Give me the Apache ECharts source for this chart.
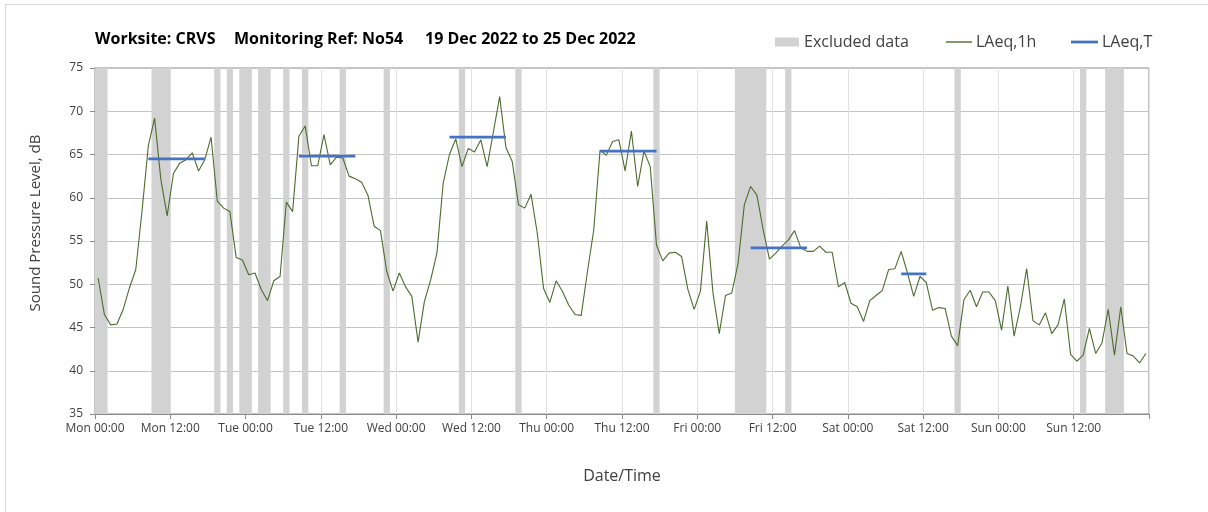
<!DOCTYPE html>
<html><head><meta charset="utf-8">
<script src="https://cdn.jsdelivr.net/npm/echarts@6/dist/echarts.min.js"></script>
<style>html,body{margin:0;padding:0;background:#fff}#c{width:1208px;height:512px}</style>
</head><body><div id="c"></div>
<script>
// ---- data ----
const titleParts = ['Worksite: CRVS', 'Monitoring Ref: No54', '19 Dec 2022 to 25 Dec 2022'];
const xTickLabels = ['Mon 00:00','Mon 12:00','Tue 00:00','Tue 12:00','Wed 00:00','Wed 12:00','Thu 00:00','Thu 12:00','Fri 00:00','Fri 12:00','Sat 00:00','Sat 12:00','Sun 00:00','Sun 12:00'];
// hourly LAeq,1h (hour index 0 = Mon 00:00-01:00)
const laeq1h = [
 50.7,46.5,45.3,45.4,47.1,49.6,51.7,58.5,66.0,69.2,62.1,57.9,62.8,64.0,64.4,65.2,63.1,64.4,67.0,59.6,58.8,58.4,53.1,52.8,
 51.1,51.3,49.4,48.1,50.4,50.9,59.5,58.4,67.1,68.3,63.7,63.7,67.3,63.8,64.7,64.6,62.5,62.2,61.8,60.3,56.7,56.2,51.5,49.2,
 51.3,49.7,48.6,43.3,48.0,50.5,53.6,61.7,65.0,66.8,63.6,65.7,65.3,66.7,63.6,67.6,71.7,65.8,64.2,59.2,58.8,60.4,55.9,49.5,
 47.9,50.4,49.2,47.6,46.5,46.4,51.5,56.3,65.5,64.9,66.5,66.7,63.1,67.7,61.3,65.4,63.6,54.5,52.7,53.6,53.7,53.2,49.4,47.1,
 49.2,57.3,49.0,44.3,48.7,49.0,52.4,59.2,61.3,60.3,56.3,52.9,53.6,54.4,55.1,56.2,54.2,53.8,53.8,54.4,53.7,53.7,49.7,50.2,
 47.8,47.4,45.7,48.1,48.7,49.3,51.7,51.8,53.8,51.3,48.6,50.9,50.2,47.0,47.3,47.2,44.0,42.9,48.2,49.3,47.4,49.1,49.1,48.1,
 44.7,49.8,44.0,47.4,51.8,45.8,45.3,46.7,44.3,45.3,48.3,41.9,41.1,41.8,44.9,42.0,43.2,47.1,41.8,47.4,42.0,41.7,40.9,42.0
];
// excluded data periods (hours from Mon 00:00)
const excludedStart = [0, 9,19,21,23,26,30,33,39,46,58,67,89,102,110,137,157,161];
const excludedEnd   = [2,12,20,22,25,28,31,34,40,47,59,68,90,107,111,138,158,164];
// LAeq,T assessment periods (first and last hour index) and levels
const periodStart = [8, 32, 56, 80, 104, 128];
const periodEnd   = [17, 41, 65, 89, 113, 132];
const periodLevel = [64.5, 64.8, 67.0, 65.4, 54.2, 51.2];

// ---- build series data ----
const hourlyData = laeq1h.map((v, i) => [i + 0.5, v]);
const tLevels = laeq1h.map(() => '-');
periodStart.forEach((s, k) => { for (let i = s; i <= periodEnd[k]; i++) tLevels[i] = periodLevel[k]; });
const periodData = tLevels.map((v, i) => [i + 0.5, v]);
const excludedData = excludedStart.map((s, k) => [s, excludedEnd[k]]);

const FONT = '"Open Sans", "Noto Sans", sans-serif';
const chart = echarts.init(document.getElementById('c'), null, {renderer: 'canvas'});
chart.setOption({
  animation: false,
  backgroundColor: '#ffffff',
  textStyle: {fontFamily: FONT},
  grid: {left: 95, right: 59, top: 68, bottom: 98, show: true, borderColor: '#8a8a8a', borderWidth: 1, containLabel: false, outerBoundsMode: 'none'},
  legend: [
    {data: [{name: 'Excluded data', icon: 'rect'}], left: 775, top: 34, itemWidth: 24, itemHeight: 9, itemGap: 0, padding: 0,
     textStyle: {fontSize: 16, color: '#404040', fontFamily: FONT}},
    {data: [{name: 'LAeq,1h', icon: 'rect'}], left: 946, top: 34, itemWidth: 26, itemHeight: 1.4, padding: 0,
     textStyle: {fontSize: 16, color: '#404040', fontFamily: FONT, padding: [0, 0, 0, -1]}},
    {data: [{name: 'LAeq,T', icon: 'rect'}], left: 1071, top: 34, itemWidth: 27, itemHeight: 2.75, padding: 0,
     textStyle: {fontSize: 16, color: '#404040', fontFamily: FONT, padding: [0, 0, 0, -1]}}
  ],
  xAxis: {
    type: 'value', min: 0, max: 168, interval: 12,
    axisLine: {show: true, lineStyle: {color: '#8a8a8a'}},
    axisTick: {show: true, length: 5, lineStyle: {color: '#8a8a8a'}},
    axisLabel: {formatter: v => xTickLabels[Math.round(v / 12)] || '', fontSize: 12, color: '#404040', margin: 9, fontFamily: FONT},
    splitLine: {show: true, lineStyle: {color: '#E2E2E2'}}
  },
  yAxis: {
    type: 'value', min: 35, max: 75, interval: 5,
    axisLine: {show: true, lineStyle: {color: '#8a8a8a'}},
    axisTick: {show: true, length: 5, lineStyle: {color: '#8a8a8a'}},
    axisLabel: {fontSize: 12, color: '#404040', margin: 12, fontFamily: FONT},
    splitLine: {show: true, lineStyle: {color: '#C4C4C4'}}
  },
  graphic: [
    {type: 'rect', shape: {x: 5.5, y: 4.5, width: 1300, height: 600}, style: {fill: 'none', stroke: '#D9D9D9', lineWidth: 1}, silent: true, z: -10},
    {type: 'text', x: 95, y: 39, style: {text: titleParts[0], font: 'bold 16px ' + FONT, fill: '#000', align: 'left', verticalAlign: 'middle'}},
    {type: 'text', x: 234, y: 39, style: {text: titleParts[1], font: 'bold 16px ' + FONT, fill: '#000', align: 'left', verticalAlign: 'middle'}},
    {type: 'text', x: 425, y: 39, style: {text: titleParts[2], font: 'bold 16px ' + FONT, fill: '#000', align: 'left', verticalAlign: 'middle'}},
    {type: 'text', x: 36, y: 223, rotation: Math.PI / 2, style: {text: 'Sound Pressure Level, dB', font: '15px ' + FONT, fill: '#404040', align: 'center', verticalAlign: 'middle'}},
    {type: 'text', x: 622, y: 476, style: {text: 'Date/Time', font: '16px ' + FONT, fill: '#404040', align: 'center', verticalAlign: 'middle'}}
  ],
  series: [
    {
      name: 'Excluded data', type: 'custom', z: 1,
      itemStyle: {color: '#D2D2D2'},
      encode: {x: [0, 1]},
      data: excludedData,
      renderItem: function (params, api) {
        const a = api.coord([api.value(0), 35]);
        const b = api.coord([api.value(1), 35]);
        const cs = params.coordSys;
        return {type: 'rect', shape: {x: a[0], y: cs.y, width: b[0] - a[0], height: cs.height}, style: {fill: '#D2D2D2'}};
      }
    },
    {name: 'LAeq,1h', type: 'line', z: 3, data: hourlyData, symbol: 'none', showSymbol: false,
     lineStyle: {color: '#4E6B2E', width: 1.1}, itemStyle: {color: '#4E6B2E'}},
    {name: 'LAeq,T', type: 'line', z: 4, data: periodData, symbol: 'none', showSymbol: false, connectNulls: false,
     lineStyle: {color: '#4472C4', width: 2.75}, itemStyle: {color: '#4472C4'}}
  ]
});
</script></body></html>
